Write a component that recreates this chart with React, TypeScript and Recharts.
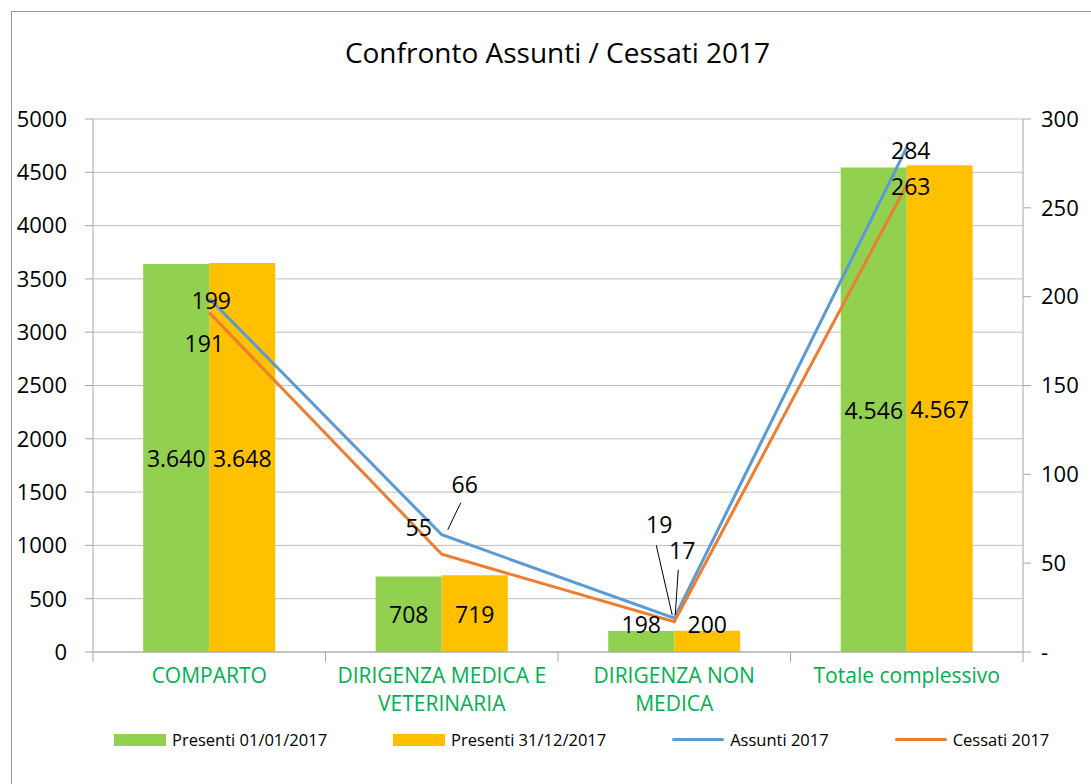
import React from 'react';
import { ComposedChart, Bar, Line, XAxis, YAxis, CartesianGrid, LabelList, Legend } from 'recharts';

const categories = ['COMPARTO', 'DIRIGENZA MEDICA E VETERINARIA', 'DIRIGENZA NON MEDICA', 'Totale complessivo'];
const tickLines = [['COMPARTO'], ['DIRIGENZA MEDICA E', 'VETERINARIA'], ['DIRIGENZA NON', 'MEDICA'], ['Totale complessivo']];
const presenti0101 = [3640, 708, 198, 4546];
const presenti3112 = [3648, 719, 200, 4567];
const assunti = [199, 66, 19, 284];
const cessati = [191, 55, 17, 263];
const leftTicks = [0, 500, 1000, 1500, 2000, 2500, 3000, 3500, 4000, 4500, 5000];
const rightTicks = [0, 50, 100, 150, 200, 250, 300];

const data = categories.map((c, i) => ({
  name: c,
  p0101: presenti0101[i],
  p3112: presenti3112[i],
  assunti: assunti[i],
  cessati: cessati[i],
}));

const W = 1091;
const H = 784;
const PLOT_LEFT = 93;
const PLOT_RIGHT = 1023;
const BAND = (PLOT_RIGHT - PLOT_LEFT) / categories.length;
const FONT = '"Open Sans", "Noto Sans", sans-serif';

const GREEN = '#92D050';
const YELLOW = '#FFC000';
const BLUE = '#5B9BD5';
const ORANGE = '#ED7D31';

const fmtIt = (v: number) => String(v).replace(/\B(?=(\d{3})+(?!\d))/g, '.');

// label placement for the line series (offsets from the point, plus optional leader line)
const assuntiPos = [
  { dx: 2, dy: 2 },
  { dx: 23, dy: -51, lead: [6, -5, 19, -32] },
  { dx: -15, dy: -94, lead: [-2, -3, -18, -73] },
  { dx: 4, dy: 3 },
];
const cessatiPos = [
  { dx: -5, dy: 30 },
  { dx: -23, dy: -27 },
  { dx: 8, dy: -72, lead: [1, -7, 4, -52] },
  { dx: 4, dy: 1 },
];

const lineLabel = (pos: any[]) => (props: any) => {
  const { x, y, value, index } = props;
  const p = pos[index] || { dx: 0, dy: 0 };
  return (
    <g>
      {p.lead && (
        <line x1={x + p.lead[0]} y1={y + p.lead[1]} x2={x + p.lead[2]} y2={y + p.lead[3]} stroke="#000" strokeWidth={1} />
      )}
      <text x={x + p.dx} y={y + p.dy} textAnchor="middle" dominantBaseline="central" fontSize={23} fontFamily={FONT} fill="#000">
        {value}
      </text>
    </g>
  );
};

const barLabel = (props: any) => {
  const { x, y, width, height, value } = props;
  const cy = height < 30 ? y - 7 : y + height / 2;
  return (
    <text x={x + width / 2} y={cy} textAnchor="middle" dominantBaseline="central" fontSize={23} fontFamily={FONT} fill="#000">
      {fmtIt(value)}
    </text>
  );
};

const CatTick = (props: any) => {
  const { x, y, index } = props;
  const lines = tickLines[index] || [];
  return (
    <g>
      <line x1={x - BAND / 2} y1={y} x2={x - BAND / 2} y2={y + 10} stroke="#A6A6A6" />
      {index === categories.length - 1 && (
        <line x1={x + BAND / 2} y1={y} x2={x + BAND / 2} y2={y + 10} stroke="#A6A6A6" />
      )}
      {lines.map((l, i) => (
        <text key={i} x={x} y={y + 23 + i * 28} textAnchor="middle" dominantBaseline="central" fontSize={21} fontFamily={FONT} fill="#00B050">
          {l}
        </text>
      ))}
    </g>
  );
};

const legendItems = [
  { label: 'Presenti 01/01/2017', color: GREEN, type: 'rect' },
  { label: 'Presenti 31/12/2017', color: YELLOW, type: 'rect' },
  { label: 'Assunti 2017', color: BLUE, type: 'line' },
  { label: 'Cessati 2017', color: ORANGE, type: 'line' },
];

const LegendContent = () => (
  <div style={{ display: 'flex', gap: 66, paddingLeft: 114, alignItems: 'center', fontFamily: FONT, fontSize: 16.5, color: '#000', whiteSpace: 'nowrap' }}>
    {legendItems.map((it) => (
      <div key={it.label} style={{ display: 'flex', alignItems: 'center', gap: 6 }}>
        <div style={{ width: 52, height: it.type === 'rect' ? 12 : 3, background: it.color, borderRadius: it.type === 'line' ? 2 : 0 }} />
        <span>{it.label}</span>
      </div>
    ))}
  </div>
);

export default function App() {
  return (
    <div style={{ position: 'absolute', left: 0, top: 0, width: W, height: H, overflow: 'hidden', background: '#fff' }}>
      <div style={{ position: 'absolute', left: 11, top: 11, width: 3000, height: 3000, borderLeft: '1.5px solid #9A9A9A', borderTop: '1.5px solid #9A9A9A' }} />
      <div style={{ position: 'absolute', left: 0, top: 32, width: 1115, textAlign: 'center', fontFamily: FONT, fontSize: 28, color: '#000', lineHeight: '40px' }}>
        Confronto Assunti / Cessati 2017
      </div>
      <div style={{ position: 'absolute', left: 0, top: 0 }}>
        <ComposedChart width={W} height={H} data={data} margin={{ top: 119, right: 0, bottom: 72, left: 0 }} barCategoryGap="21.6%" barGap={0}>
          <CartesianGrid yAxisId="left" vertical={false} stroke="#BFBFBF" />
          <XAxis dataKey="name" height={60} tickLine={false} tickSize={0} tickMargin={0} interval={0} axisLine={{ stroke: '#A6A6A6' }} tick={<CatTick />} />
          <YAxis yAxisId="left" width={93} domain={[0, 5000]} ticks={leftTicks} interval={0} tickSize={8} tickMargin={18}
            axisLine={{ stroke: '#A6A6A6' }} tickLine={{ stroke: '#A6A6A6' }}
            tick={{ fontSize: 22, fontFamily: FONT, fill: '#000' }} />
          <YAxis yAxisId="right" orientation="right" width={68} domain={[0, 300]} ticks={rightTicks} interval={0} tickSize={8} tickMargin={10}
            axisLine={{ stroke: '#A6A6A6' }} tickLine={{ stroke: '#A6A6A6' }}
            tickFormatter={(v: number) => (v === 0 ? '-' : String(v))}
            tick={{ fontSize: 22, fontFamily: FONT, fill: '#000', textAnchor: 'start' }} />
          <Legend content={<LegendContent />} wrapperStyle={{ top: 728, left: 0, width: W, height: 0 }} />
          <Bar yAxisId="left" dataKey="p0101" name="Presenti 01/01/2017" fill={GREEN} isAnimationActive={false}>
            <LabelList dataKey="p0101" content={barLabel} />
          </Bar>
          <Bar yAxisId="left" dataKey="p3112" name="Presenti 31/12/2017" fill={YELLOW} isAnimationActive={false}>
            <LabelList dataKey="p3112" content={barLabel} />
          </Bar>
          <Line yAxisId="right" dataKey="assunti" name="Assunti 2017" stroke={BLUE} strokeWidth={3} dot={false} isAnimationActive={false}>
            <LabelList dataKey="assunti" content={lineLabel(assuntiPos)} />
          </Line>
          <Line yAxisId="right" dataKey="cessati" name="Cessati 2017" stroke={ORANGE} strokeWidth={3} dot={false} isAnimationActive={false}>
            <LabelList dataKey="cessati" content={lineLabel(cessatiPos)} />
          </Line>
        </ComposedChart>
      </div>
    </div>
  );
}
